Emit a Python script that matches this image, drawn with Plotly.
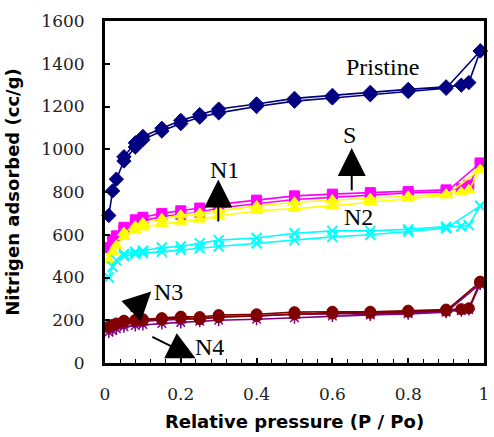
import plotly.graph_objects as go

# Relative pressure points (adsorption branch then desorption branch)
p_ads = [0.01, 0.02, 0.03, 0.05, 0.08, 0.1, 0.15, 0.2, 0.25, 0.3, 0.4, 0.5, 0.6, 0.7, 0.8, 0.9, 0.99]
p_des = [0.99, 0.96, 0.94, 0.9, 0.8, 0.7, 0.6, 0.5, 0.4, 0.3, 0.25, 0.2, 0.15, 0.1, 0.08, 0.05]

pristine_ads = [690, 805, 860, 945, 1010, 1045, 1085, 1120, 1150, 1170, 1200, 1225, 1240, 1255, 1270, 1285, 1460]
pristine_des = [1460, 1312, 1300, 1292, 1280, 1266, 1252, 1238, 1212, 1188, 1162, 1135, 1098, 1060, 1030, 965]

s_ads = [540, 575, 595, 622, 650, 665, 685, 695, 705, 725, 745, 765, 775, 785, 795, 800, 935]
s_des = [935, 832, 815, 810, 802, 797, 790, 782, 762, 742, 725, 712, 700, 682, 670, 635]

n1_ads = [480, 520, 550, 590, 620, 635, 650, 662, 672, 688, 712, 722, 735, 752, 770, 785, 905]
n1_des = [905, 810, 800, 790, 780, 770, 762, 752, 734, 712, 700, 692, 675, 655, 640, 610]

n2_ads = [400, 450, 480, 500, 510, 515, 520, 530, 537, 545, 560, 575, 590, 600, 615, 630, 735]
n2_des = [735, 645, 640, 638, 625, 618, 618, 607, 585, 575, 560, 545, 540, 525, 520, 510]

n3_ads = [170, 178, 185, 195, 198, 200, 205, 210, 205, 215, 220, 228, 232, 235, 240, 245, 380]
n3_des = [380, 256, 252, 250, 245, 240, 240, 238, 228, 224, 215, 217, 210, 205, 202, 198]

n4_ads = [145, 152, 160, 170, 175, 180, 185, 190, 195, 200, 205, 212, 220, 225, 230, 238, 370]
n4_des = [370, 250, 245, 242, 238, 232, 230, 228, 220, 215, 208, 205, 200, 195, 190, 182]

x_ticks = [0, 0.2, 0.4, 0.6, 0.8, 1]
x_tick_labels = ["0", "0.2", "0.4", "0.6", "0.8", "1"]
y_ticks = [0, 200, 400, 600, 800, 1000, 1200, 1400, 1600]

series = [
    ("Pristine", pristine_ads, pristine_des, "#000080", "diamond", 11, 1),
    ("S", s_ads, s_des, "#FF00FF", "square", 10, 1),
    ("N1", n1_ads, n1_des, "#FFFF00", "triangle-up", 11, 1),
    ("N2", n2_ads, n2_des, "#00FFFF", "x-thin-open", 10, 2),
    ("N4", n4_ads, n4_des, "#800080", "asterisk-open", 10, 1.5),
    ("N3", n3_ads, n3_des, "#800000", "circle", 11, 1),
]

fig = go.Figure()
for name, ads, des, color, sym, size, mlw in series:
    fig.add_trace(go.Scatter(
        x=p_ads + p_des, y=ads + des, name=name, mode="lines+markers",
        line=dict(color=color, width=1.6),
        marker=dict(symbol=sym, size=size, color=color,
                    line=dict(color=color, width=mlw)),
        cliponaxis=False, showlegend=False,
    ))

label_font = dict(family="Liberation Serif", size=24, color="black")
texts = [("Pristine", 0.733, 1386), ("S", 0.646, 1067), ("N1", 0.316, 905),
         ("N2", 0.67, 681), ("N3", 0.168, 333), ("N4", 0.277, 76)]
for t, x, y in texts:
    fig.add_annotation(x=x, y=y, text=t, showarrow=False, font=label_font)

arrows = [((0.299, 655), (0.299, 858)), ((0.651, 801), (0.651, 1006)),
          ((0.064, 234), (0.122, 334)), ((0.121, 126), (0.239, 22))]
for (x0, y0), (x1, y1) in arrows:
    fig.add_annotation(x=x1, y=y1, ax=x0, ay=y0, xref="x", yref="y",
                       axref="x", ayref="y", text="", showarrow=True,
                       arrowhead=2, arrowsize=2.8, arrowwidth=2, arrowcolor="black")

tick_font = dict(family="DejaVu Serif", size=17, color="#222")
title_font = dict(family="DejaVu Sans", size=18, color="black", weight="bold")

fig.update_xaxes(
    range=[0, 1], tickvals=x_ticks, ticktext=x_tick_labels, ticks="inside", ticklen=5,
    tickwidth=1.5, tickcolor="black", minor=dict(dtick=0.04, ticks="inside", ticklen=4, tickcolor="black", tickwidth=1.2),
    showline=True, linewidth=3, linecolor="black", mirror=True, showgrid=False, zeroline=False,
    tickfont=tick_font, ticklabelstandoff=14,
    title=dict(text="Relative pressure (P / Po)", font=title_font, standoff=12),
)
fig.update_yaxes(
    range=[0, 1600], tickvals=y_ticks, ticks="inside", ticklen=5, tickwidth=1.5, tickcolor="black",
    showline=True, linewidth=3, linecolor="black", mirror=True, showgrid=False, zeroline=False,
    tickfont=tick_font, ticklabelstandoff=14,
    title=dict(text="Nitrigen adsorbed (cc/g)", font=title_font, standoff=18),
)
fig.update_layout(
    width=494, height=437, margin=dict(l=105, r=5, t=21, b=74),
    plot_bgcolor="white", paper_bgcolor="white",
)
fig.write_html("out.html")
